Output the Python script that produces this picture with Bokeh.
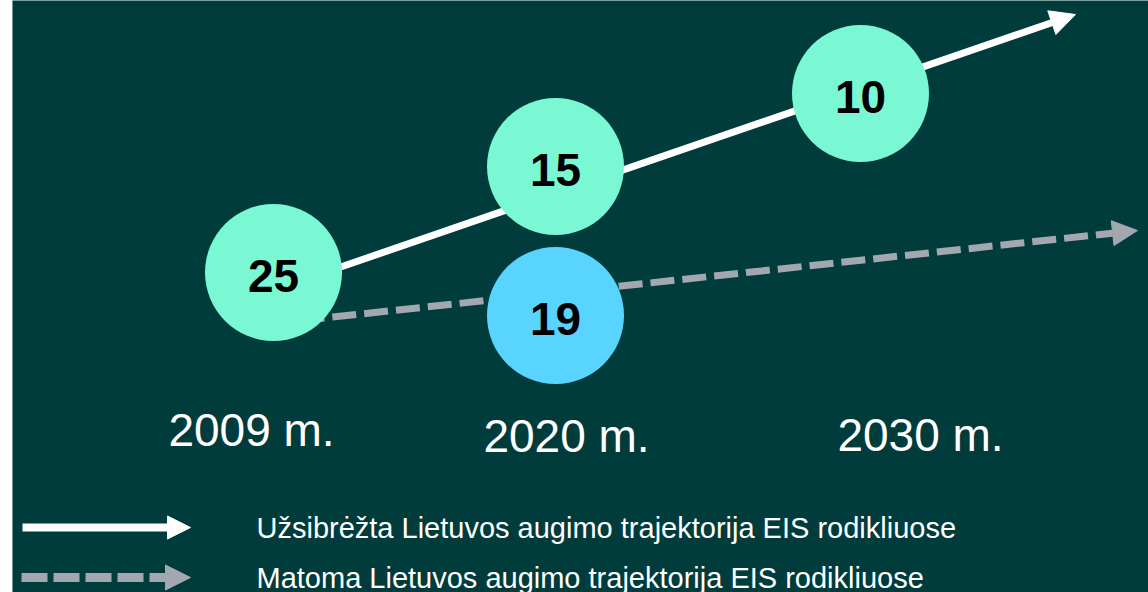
from bokeh.plotting import figure
from bokeh.models import Range1d, Arrow, NormalHead, ColumnDataSource, Span
from bokeh.core.properties import value
from bokeh.embed import file_html
from bokeh.resources import INLINE

# ---- data ----
years = ["2009 m.", "2020 m.", "2030 m."]
target_rank = [25, 15, 10]          # planned EIS rank trajectory
actual_rank = [25, 19]              # measured EIS rank (2009, 2020)
legend_labels = [
    "Užsibrėžta Lietuvos augimo trajektorija EIS rodikliuose",
    "Matoma Lietuvos augimo trajektorija EIS rodikliuose",
]

# schematic layout of the diagram (diagram coordinates)
year_x = [251, 566, 920]
year_y = [429, 435, 434]
bubble_x = [273, 555, 555, 860]
bubble_y = [272, 166, 315, 93]
bubble_vals = [target_rank[0], target_rank[1], actual_rank[1], target_rank[2]]
bubble_kind = ["target", "target", "actual", "target"]
target_path = (330, 270, 1075, 14)
actual_path = (300, 320, 1137, 230)

BG = "#013C3C"
MINT = "#7AF8D4"
BLUE = "#59D4FF"
GREY = "#A3A7AF"
FONT = "Liberation Sans"

p = figure(width=1148, height=592, output_backend="svg", toolbar_location=None,
           x_range=Range1d(12, 1148), y_range=Range1d(592, 0),
           x_axis_type=None, y_axis_type=None,
           min_border=0, min_border_left=12, min_border_right=0,
           min_border_top=0, min_border_bottom=0)
p.grid.visible = False
p.outline_line_color = None
p.background_fill_color = BG
p.border_fill_color = "white"
p.add_layout(Span(location=12, dimension="height", line_color="#5E8A7A", line_width=1))

# trajectories
p.add_layout(Arrow(x_start=target_path[0], y_start=target_path[1],
                   x_end=target_path[2], y_end=target_path[3],
                   line_color="white", line_width=7, level="underlay",
                   end=NormalHead(size=25, fill_color="white", line_color="white", line_width=1)))
p.add_layout(Arrow(x_start=actual_path[0], y_start=actual_path[1],
                   x_end=actual_path[2], y_end=actual_path[3],
                   line_color=GREY, line_width=7, line_dash="24 8", level="underlay",
                   end=NormalHead(size=25, fill_color=GREY, line_color=GREY, line_width=1)))

# bubbles
src = ColumnDataSource(dict(
    x=bubble_x, y=bubble_y, label=[str(v) for v in bubble_vals],
    color=[MINT if k == "target" else BLUE for k in bubble_kind]))
p.scatter("x", "y", source=src, size=137, fill_color="color", line_color=None)
p.text("x", "y", text="label", source=src, text_align="center", text_baseline="middle",
       y_offset=3, text_font=value(FONT), text_font_style="bold",
       text_font_size="46px", text_color="black")

# year labels
p.text(year_x, year_y, text=years, text_align="center", text_baseline="middle",
       text_font=value(FONT), text_font_size="46px", text_color="white")

# legend
leg_y = [527, 577]
p.add_layout(Arrow(x_start=22, y_start=leg_y[0], x_end=190, y_end=leg_y[0],
                   line_color="white", line_width=8,
                   end=NormalHead(size=23, fill_color="white", line_color="white", line_width=1)))
p.add_layout(Arrow(x_start=21, y_start=leg_y[1], x_end=190, y_end=leg_y[1],
                   line_color=GREY, line_width=9, line_dash="26 6",
                   end=NormalHead(size=25, fill_color=GREY, line_color=GREY, line_width=1)))
p.text([256, 256], leg_y, text=legend_labels, text_align="left", text_baseline="middle",
       text_font=value(FONT), text_font_size="29px", text_color="white")

open("out.html", "w").write(file_html(p, INLINE))
